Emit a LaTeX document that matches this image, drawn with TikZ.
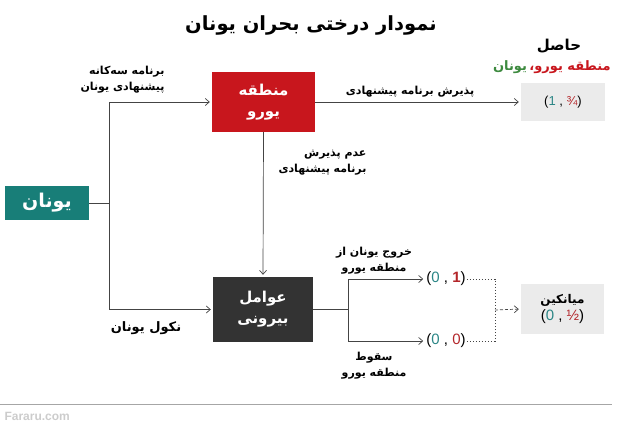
\documentclass[tikz,border=0pt]{standalone}
\usepackage{fontspec}
\setmainfont{Liberation Sans}
\newfontfamily\farsi[Script=Arabic]{DejaVu Sans}
\TeXXeTstate=1
\usetikzlibrary{arrows.meta,positioning}

\definecolor{eurored}{HTML}{C8161D}
\definecolor{greekteal}{HTML}{187E78}
\definecolor{darkbox}{HTML}{333333}
\definecolor{resgray}{HTML}{EBEBEB}
\definecolor{numteal}{HTML}{2A8585}
\definecolor{numred}{HTML}{B3262A}
\definecolor{greekgreen}{HTML}{3D8A3F}
\definecolor{wire}{HTML}{444444}

% Persian text, set right to left.
\newcommand{\fa}[1]{{\farsi\bfseries\beginR #1\endR}}

\tikzset{
  player/.style={text=white, font=\fontsize{15}{21}\selectfont, align=center, inner sep=0pt},
  result/.style={fill=resgray, align=center, inner sep=0pt},
  move/.style={font=\fontsize{11}{16}\selectfont},
  wires/.style={draw=wire, line width=0.7pt},
  arr/.style={wires, -{Straight Barb[length=4pt, width=7pt]}, shorten >=2pt},
  tuple/.style={font=\fontsize{15}{17}\selectfont, inner sep=1pt},
  dots/.style={wires, dash pattern=on 1.5pt off 1.5pt}
}

\begin{document}
\begin{tikzpicture}[x=1pt, y=-1pt]
  \useasboundingbox (0,0) rectangle (624,428);

  % The title and the result header.
  \node (title) at (311,25) {\fontsize{19.5}{24}\selectfont\fa{نمودار درختی بحران یونان}};
  \node (reshead) at (559,46) {\fontsize{15}{18}\selectfont\fa{حاصل}};
  \node[text=greekgreen, inner sep=0pt] (resgreece) at (510,67) {\fontsize{13}{15}\selectfont\fa{یونان}};
  \node[text=eurored, inner sep=0pt, right=2pt of resgreece] (reseuro) {\fontsize{13}{15}\selectfont\fa{منطقه یورو،}};

  % The players.
  \node[player, fill=greekteal, minimum width=84pt, minimum height=34pt, font=\fontsize{19}{21}\selectfont] (greece) at (47,203) {\fa{یونان}};
  \node[player, fill=eurored, minimum width=103pt, minimum height=60pt] (eurozone) at (263.5,102) {\fa{منطقه}\\\fa{یورو}};
  \node[player, fill=darkbox, minimum width=100pt, minimum height=65pt] (external) at (263,309.5) {\fa{عوامل}\\\fa{بیرونی}};

  % The outcomes.
  \node[result, minimum width=84pt, minimum height=38pt] (accept) at (563,102)
    {\fontsize{13}{15}\selectfont(\textcolor{numteal}{1} , \textcolor{numred}{¾})};
  \node[tuple] (exit) at (446,279) {(\textcolor{numteal}{0} , \textcolor{numred}{\bfseries 1})};
  \node[tuple] (collapse) at (446,341) {(\textcolor{numteal}{0} , \textcolor{numred}{0})};
  \node[result, minimum width=83pt, minimum height=50pt] (average) at (562.5,309)
    {\fontsize{12}{14}\selectfont\fa{میانکین}\\[3pt]
     \fontsize{15}{16}\selectfont(\textcolor{numteal}{0} , \textcolor{numred}{½})};

  % Junctions of the branches.
  \coordinate (split) at (109,203);
  \coordinate (branch) at (348,309.5);
  \coordinate (merge) at (495,310);

  % Connect the players.
  \draw[wires] (greece.east) -- (split);
  \draw[arr] (split) |- (eurozone.west);
  \draw[arr] (split) |- (external.west);
  \draw[arr] (eurozone.east) -- (accept.west);
  \draw[arr] (eurozone.south) -- (external.north);
  \draw[wires] (external.east) -- (branch);
  \draw[arr] (branch) |- (exit.west);
  \draw[arr] (branch) |- (collapse.west);

  % The dotted merge into the average.
  \draw[dots] (exit.east) -| (merge);
  \draw[dots] (collapse.east) -| (merge);
  \draw[arr, dash pattern=on 3pt off 2pt] (merge) -- (average.west);

  % The labels of the moves.
  \node[move, anchor=east, align=right] (planlabel) at (168,80)
    {\fa{برنامه سه‌کانه}\\\fa{پیشنهادی یونان}};
  \node[move] (acceptlabel) at (410,92) {\fa{پذیرش برنامه پیشنهادی}};
  \node[move, anchor=east, align=right] (rejectlabel) at (370,163)
    {\fa{عدم پذیرش}\\\fa{برنامه پیشنهادی}};
  \node[move] (defaultlabel) at (146,328) {\fontsize{13}{15}\selectfont\fa{نکول یونان}};
  \node[move, align=center] (exitlabel) at (374,261) {\fa{خروج یونان از}\\\fa{منطقه یورو}};
  \node[move, align=center] (collapselabel) at (374,366) {\fa{سقوط}\\\fa{منطقه یورو}};

  % The footer.
  \draw[gray!70, line width=0.8pt] (0,404) -- (612,404);
  \node[anchor=west, text=gray!40, font=\bfseries\fontsize{12}{14}\selectfont] (source) at (1,416) {Fararu.com};
\end{tikzpicture}
\end{document}
